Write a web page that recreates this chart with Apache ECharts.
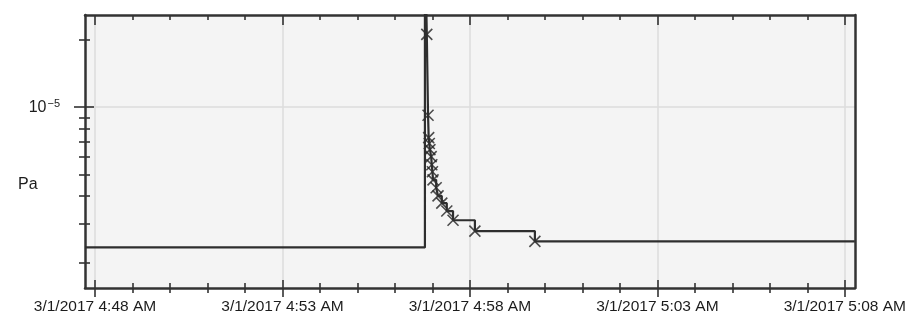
<!DOCTYPE html>
<html>
<head>
<meta charset="utf-8">
<script src="https://cdn.jsdelivr.net/npm/echarts@6/dist/echarts.min.js"></script>
<style>
  html, body { margin: 0; padding: 0; background: #ffffff; }
  #chart { width: 909px; height: 322px; }
</style>
</head>
<body>
<div id="chart"></div>
<script>
// Pressure trace (Pa) on 3/1/2017, step-held readings with sample markers
const day = '2017-03-01';
const traceTimes = [
  '04:47:44', '04:56:48', '04:56:51', '04:56:53', '04:56:54', '04:56:55',
  '04:56:56', '04:56:58', '04:56:59', '04:57:00', '04:57:01', '04:57:06',
  '04:57:09', '04:57:15', '04:57:23', '04:57:33', '04:58:08', '04:59:44',
  '05:08:16'
];
const traceValues = [
  2.35e-6, 6.0e-5, 2.12e-5, 9.2e-6, 7.3e-6, 6.87e-6,
  6.45e-6, 6.0e-6, 5.52e-6, 5.13e-6, 4.72e-6, 4.35e-6,
  4.0e-6, 3.71e-6, 3.42e-6, 3.11e-6, 2.78e-6, 2.5e-6,
  2.5e-6
];
// which readings carry a sample marker
const sampleMarked = [
  false, false, true, true, true, true,
  true, true, true, true, true, true,
  true, true, true, true, true, true,
  false
];

// axis ranges and ticks
const xStart = '04:47:44';
const xEnd = '05:08:16';
const majorTickTimes = ['04:48', '04:53', '04:58', '05:03', '05:08'];
const minorTickTimes = [
  '04:49', '04:50', '04:51', '04:52', '04:54', '04:55', '04:56', '04:57',
  '04:59', '05:00', '05:01', '05:02', '05:04', '05:05', '05:06', '05:07'
];
const yMin = 1.545e-6;
const yMax = 2.59e-5;
const yMajorTicks = [1e-5];
const yMinorTicks = [2e-6, 3e-6, 4e-6, 5e-6, 6e-6, 7e-6, 8e-6, 9e-6, 2e-5];
const yLabel = 'Pa';

const toMs = t => Date.parse(day + 'T' + (t.length === 5 ? t + ':00' : t) + 'Z');

const tracePoints = traceTimes.map((t, i) => [toMs(t), traceValues[i]]);
const samplePoints = tracePoints.filter((p, i) => sampleMarked[i]);

function timeLabel(v) {
  const d = new Date(v);
  let h = d.getUTCHours();
  const ampm = h < 12 ? 'AM' : 'PM';
  h = h % 12; if (h === 0) h = 12;
  const m = String(d.getUTCMinutes()).padStart(2, '0');
  return (d.getUTCMonth() + 1) + '/' + d.getUTCDate() + '/' + d.getUTCFullYear() + ' ' + h + ':' + m + ' ' + ampm;
}

const frameColor = '#333333';
const textColor = '#1c1c1c';
const fontFamily = 'Liberation Sans, Arial, sans-serif';
const majors = majorTickTimes.map(toMs);
const minors = minorTickTimes.map(toMs);

function xAx(opts) {
  return Object.assign({
    type: 'value', min: toMs(xStart), max: toMs(xEnd),
    axisLine: { show: false },
    axisLabel: { show: false },
    splitLine: { show: false },
    axisTick: { show: false }
  }, opts);
}
function yAx(opts) {
  return Object.assign({
    type: 'log', min: yMin, max: yMax,
    axisLine: { show: false },
    axisLabel: { show: false },
    splitLine: { show: false },
    axisTick: { show: false }
  }, opts);
}
const tickStyle = { color: frameColor, width: 1.6 };
const frameLine = { show: true, lineStyle: { color: frameColor, width: 2.5 } };

const chart = echarts.init(document.getElementById('chart'), null, { renderer: 'canvas' });
chart.setOption({
  animation: false,
  backgroundColor: '#ffffff',
  grid: {
    left: 85, right: 54, top: 15, bottom: 34,
    show: true, backgroundColor: '#f4f4f4', borderWidth: 0
  },
  xAxis: [
    xAx({
      position: 'bottom',
      axisLine: frameLine,
      axisTick: { show: true, customValues: majors, inside: false, length: 9, lineStyle: tickStyle },
      axisLabel: {
        show: true, customValues: majors, formatter: timeLabel, margin: 11,
        color: textColor, fontSize: 15.5, fontFamily: fontFamily
      },
      splitLine: { show: true, lineStyle: { color: '#dcdcdc', width: 1.5 } }
    }),
    xAx({ position: 'bottom', axisTick: { show: true, customValues: majors, inside: true, length: 8, lineStyle: tickStyle } }),
    xAx({ position: 'bottom', axisTick: { show: true, customValues: minors, inside: false, length: 5, lineStyle: tickStyle } }),
    xAx({ position: 'bottom', axisTick: { show: true, customValues: minors, inside: true, length: 5, lineStyle: tickStyle } }),
    xAx({
      position: 'top',
      axisLine: frameLine,
      axisTick: { show: true, customValues: majors, inside: true, length: 10, lineStyle: tickStyle }
    }),
    xAx({ position: 'top', axisTick: { show: true, customValues: minors, inside: true, length: 5, lineStyle: tickStyle } })
  ],
  yAxis: [
    yAx({
      position: 'left',
      axisLine: frameLine,
      axisTick: { show: true, customValues: yMajorTicks, inside: false, length: 11, lineStyle: tickStyle },
      axisLabel: {
        show: true, customValues: yMajorTicks, margin: 25,
        formatter: v => '{b|10}{s|\u22125}',
        rich: {
          b: { fontSize: 16, color: textColor, fontFamily: fontFamily, lineHeight: 17 },
          s: { fontSize: 11, color: textColor, fontFamily: fontFamily, verticalAlign: 'top', lineHeight: 11, padding: [0, 0, 8, 1] }
        }
      },
      splitLine: { show: true, lineStyle: { color: '#dcdcdc', width: 1.5 } }
    }),
    yAx({ position: 'left', axisTick: { show: true, customValues: yMajorTicks, inside: true, length: 9, lineStyle: tickStyle } }),
    yAx({ position: 'left', axisTick: { show: true, customValues: yMinorTicks, inside: false, length: 6, lineStyle: tickStyle } }),
    yAx({ position: 'left', axisTick: { show: true, customValues: yMinorTicks, inside: true, length: 5, lineStyle: tickStyle } }),
    yAx({ position: 'right', axisLine: frameLine })
  ],
  graphic: [{
    type: 'text', left: 18, top: 177,
    style: { text: yLabel, fontSize: 16, fill: textColor, fontFamily: fontFamily }
  }],
  series: [
    {
      type: 'line', step: 'end', data: tracePoints,
      showSymbol: false, clip: true,
      lineStyle: { color: '#2e2e2e', width: 2.2 }
    },
    {
      type: 'scatter', data: samplePoints,
      symbol: 'path://M0,0L10,10M10,0L0,10', symbolSize: 11,
      itemStyle: { color: 'none', borderColor: '#222222', borderWidth: 1.6 }
    }
  ]
});
</script>
</body>
</html>
